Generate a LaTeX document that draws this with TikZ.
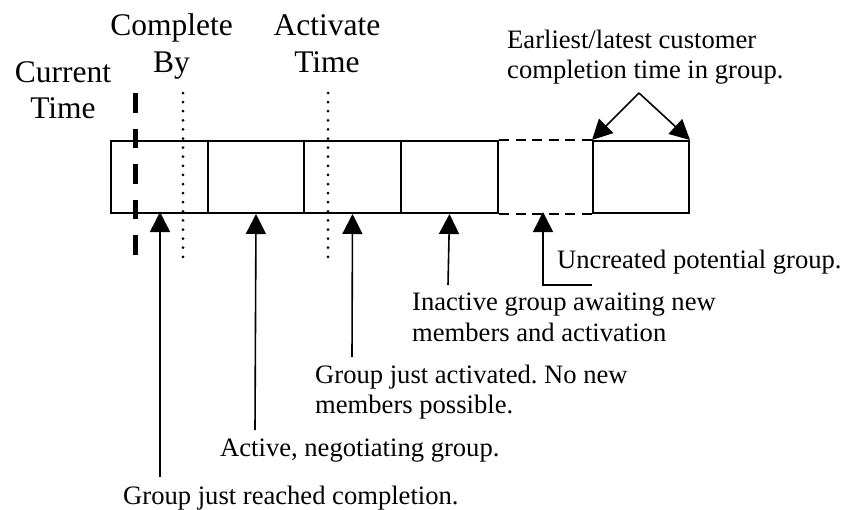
\documentclass[tikz,border=0pt]{standalone}
\usepackage{fontspec}
\setmainfont{Liberation Serif}
\usetikzlibrary{arrows.meta}
\frenchspacing
\begin{document}
\begin{tikzpicture}[x=1pt,y=-1pt,
  grp/.style={draw, line width=2pt, minimum height=72pt, inner sep=0pt, anchor=north west},
  lbl/.style={font=\fontsize{26.6}{30}\selectfont, anchor=base west, inner sep=0pt},
  big/.style={font=\fontsize{31.5}{36}\selectfont, anchor=base, inner sep=0pt},
  arr/.style={line width=1.6pt, -{Triangle[length=20pt,width=20pt]}},
  dotmark/.style={fill=black},
  gapline/.style={line width=2pt, dash pattern=on 10pt off 6.5pt},
  nowline/.style={line width=5pt, dash pattern=on 19.5pt off 16pt},
]
\useasboundingbox (0,0) rectangle (841,509);
% group boxes
\node[grp, minimum width=97pt] (b1) at (110,140) {};
\node[grp, minimum width=96pt] (b2) at (207,140) {};
\node[grp, minimum width=97pt] (b3) at (303,140) {};
\node[grp, minimum width=97pt] (b4) at (400,140) {};
\node[grp, minimum width=96pt] (b6) at (592,140) {};
\draw[gapline] (b4.north east) -- (b6.north west);
\draw[gapline] (b4.south east) -- (b6.south west);
\coordinate (u) at (543,212);
% time markers
\coordinate (now1) at (135,93);
\coordinate (now2) at (135,257);
\draw[nowline] (now1) -- (now2);
\foreach \yy in {93,102.1,...,257} {
  \fill[dotmark] (183,\yy) circle (1.5pt);
  \fill[dotmark] (328,\yy) circle (1.5pt);
}
% top labels
\node[big] (cur1) at (63,82) {Current};
\node[big] (cur2) at (63,118) {Time};
\node[big] (cmp1) at (171.5,35) {Complete};
\node[big] (cmp2) at (171.5,72) {By};
\node[big] (act1) at (327,35) {Activate};
\node[big] (act2) at (327,72) {Time};
\node[lbl] (ear1) at (507,48) {Earliest/latest customer};
\node[lbl] (ear2) at (507,78) {completion time in group.};
\coordinate (ap) at (639,93);
\draw[arr] (ap) -- (b6.north west);
\draw[arr] (ap) -- (b6.north east);
% bottom labels
\node[lbl] (unc) at (557,268) {Uncreated potential group.};
\coordinate (ue) at (592,285);
\coordinate (uk) at (543,285);
\draw[arr] (ue) -- (uk) -- (u);
\node[lbl] (ina1) at (412,310) {Inactive group awaiting new};
\node[lbl] (ina2) at (412,341) {members and activation};
\coordinate (s4) at (448,285);
\draw[arr] (s4) -- (b4.south);
\node[lbl] (jac1) at (315,383) {Group just activated. No new};
\node[lbl] (jac2) at (315,413) {members possible.};
\coordinate (s3) at (352,357);
\draw[arr] (s3) -- (b3.south);
\node[lbl] (neg) at (220,456) {Active, negotiating group.};
\coordinate (s2) at (255,430);
\draw[arr] (s2) -- (b2.south);
\node[lbl] (cpl) at (123,504) {Group just reached completion.};
\coordinate (s1) at (160,477);
\draw[arr] (s1) -- (160,212);
\end{tikzpicture}
\end{document}
